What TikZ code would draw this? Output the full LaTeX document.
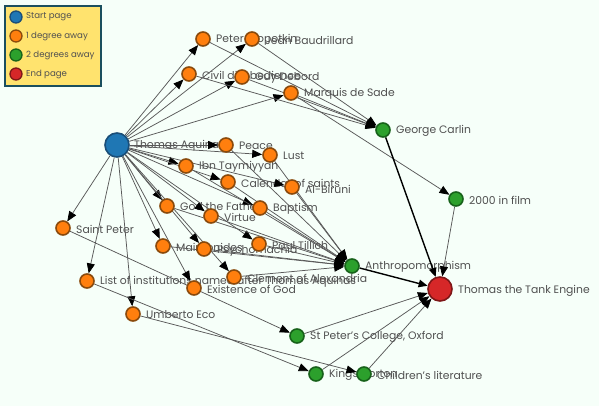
\documentclass[tikz,border=0pt]{standalone}
\usepackage{fontspec}
\setmainfont{Poppins}
\usetikzlibrary{arrows.meta}
\pgfdeclarelayer{bgl}
\pgfdeclarelayer{lab}
\pgfdeclarelayer{edge}
\pgfsetlayers{bgl,lab,edge,main}
\definecolor{bg}{HTML}{F6FFF9}
\definecolor{cblue}{HTML}{1F77B4}\definecolor{bblue}{HTML}{1A4E78}
\definecolor{corange}{HTML}{FF7F0E}\definecolor{borange}{HTML}{8A4A0C}
\definecolor{cgreen}{HTML}{2CA02C}\definecolor{bgreen}{HTML}{17621A}
\definecolor{cred}{HTML}{D62728}\definecolor{bred}{HTML}{7E1718}
\definecolor{legfill}{HTML}{FFE36E}\definecolor{legdraw}{HTML}{1B4F5E}
\definecolor{txt}{HTML}{505050}
\tikzset{
  dot/.style={circle,inner sep=0pt,line width=1.6pt,outer sep=0.8pt},
  onode/.style={dot,minimum size=14pt,fill=corange,draw=borange},
  gnode/.style={dot,minimum size=14pt,fill=cgreen,draw=bgreen},
  snode/.style={dot,minimum size=24pt,fill=cblue,draw=bblue},
  enode/.style={dot,minimum size=24pt,fill=cred,draw=bred},
  lab/.style={anchor=west,inner sep=0pt,text=txt,font=\fontsize{10.8}{12}\selectfont},
  ed/.style={draw=black!65,line width=0.75pt,-{Triangle[length=10pt,width=8pt,color=black,fill=black]}},
  edk/.style={draw=black,line width=1.4pt,-{Triangle[length=9pt,width=7.5pt]}},
  legtxt/.style={anchor=west,inner sep=0pt,text=txt,font=\fontsize{8.6}{9}\selectfont},
  legdot/.style={dot,minimum size=12pt,line width=1.3pt}
}
\begin{document}
\begin{tikzpicture}[x=1pt,y=-1pt]
\begin{pgfonlayer}{bgl}
\fill[bg] (0,0) rectangle (599,406);
\end{pgfonlayer}
\useasboundingbox (0,0) rectangle (599,406);
% legend
\node[draw=legdraw,fill=legfill,line width=1.6pt,minimum width=96pt,minimum height=80pt,inner sep=0pt,anchor=north west] (leg) at (4,5) {};
\node[legdot,fill=cblue,draw=bblue] (l1) at (16,17) {};
\node[legdot,fill=corange,draw=borange] (l2) at (16,36) {};
\node[legdot,fill=cgreen,draw=bgreen] (l3) at (16,55) {};
\node[legdot,fill=cred,draw=bred] (l4) at (16,74) {};
\node[legtxt] (t1) at (26,17) {Start page};
\node[legtxt] (t2) at (26,36) {1 degree away};
\node[legtxt] (t3) at (26,55) {2 degrees away};
\node[legtxt] (t4) at (26,74) {End page};
% nodes
\node[snode] (ta) at (117,145) {};
\node[onode] (kro) at (203,39) {};
\node[onode] (bau) at (252,39) {};
\node[onode] (civ) at (189,74) {};
\node[onode] (deb) at (242,77) {};
\node[onode] (sade) at (291,93) {};
\node[gnode] (gc) at (383,130) {};
\node[gnode] (film) at (456,199) {};
\node[onode] (peace) at (226,145) {};
\node[onode] (lust) at (270,155) {};
\node[onode] (ibn) at (186,166) {};
\node[onode] (cal) at (228,182) {};
\node[onode] (bir) at (292,187) {};
\node[onode] (god) at (167,206) {};
\node[onode] (vir) at (211,216) {};
\node[onode] (bap) at (260,208) {};
\node[onode] (sp) at (63,228) {};
\node[onode] (mai) at (163,246) {};
\node[onode] (psy) at (204,249) {};
\node[onode] (till) at (259,244) {};
\node[onode] (clem) at (234,277) {};
\node[onode] (list) at (87,281) {};
\node[onode] (exist) at (194,288) {};
\node[onode] (eco) at (133,314) {};
\node[gnode] (anth) at (352,266) {};
\node[enode] (tte) at (440,289) {};
\node[gnode] (spc) at (297,336) {};
\node[gnode] (kn) at (316,374) {};
\node[gnode] (cl) at (364,374) {};
% labels
\begin{pgfonlayer}{lab}
\node[lab] (ta-l) at (134,146) {Thomas Aquinas};
\node[lab] (kro-l) at (216,40) {Peter Kropotkin};
\node[lab] (bau-l) at (265,40) {Jean Baudrillard};
\node[lab] (civ-l) at (202,75) {Civil disobedience};
\node[lab] (deb-l) at (255,78) {Guy Debord};
\node[lab] (sade-l) at (304,94) {Marquis de Sade};
\node[lab] (gc-l) at (396,131) {George Carlin};
\node[lab] (film-l) at (469,200) {2000 in film};
\node[lab] (peace-l) at (239,146) {Peace};
\node[lab] (lust-l) at (283,156) {Lust};
\node[lab] (ibn-l) at (199,167) {Ibn Taymiyyah};
\node[lab] (cal-l) at (241,183) {Calendar of saints};
\node[lab] (bir-l) at (305,189) {Al-Biruni};
\node[lab] (god-l) at (180,207) {God the Father};
\node[lab] (vir-l) at (224,217) {Virtue};
\node[lab] (bap-l) at (273,209) {Baptism};
\node[lab] (sp-l) at (76,229) {Saint Peter};
\node[lab] (mai-l) at (176,247) {Maimonides};
\node[lab] (psy-l) at (217,251) {Psychomachia};
\node[lab] (till-l) at (272,245) {Paul Tillich};
\node[lab] (clem-l) at (247,278) {Clement of Alexandria};
\node[lab] (list-l) at (100,282) {List of institutions named after Thomas Aquinas};
\node[lab] (exist-l) at (207,289) {Existence of God};
\node[lab] (eco-l) at (146,315) {Umberto Eco};
\node[lab] (anth-l) at (365,267) {Anthropomorphism};
\node[lab] (tte-l) at (458,291) {Thomas the Tank Engine};
\node[lab] (spc-l) at (310,337) {St Peter's College, Oxford};
\node[lab] (kn-l) at (329,375) {Kings Norton};
\node[lab] (cl-l) at (377,375) {Children's literature};
\end{pgfonlayer}
% edges
\begin{pgfonlayer}{edge}
\foreach \n in {kro,bau,civ,deb,sade,peace,lust,ibn,cal,bir,god,vir,bap,sp,mai,psy,till,clem,list,exist,eco}
  \draw[ed] (ta) -- (\n);
\foreach \n in {kro,bau,civ,deb,sade}
  \draw[ed] (\n) -- (gc);
\draw[ed] (sade) -- (film);
\foreach \n in {peace,lust,ibn,cal,bir,god,vir,bap,mai,psy,till,clem}
  \draw[ed] (\n) -- (anth);
\draw[ed] (sp) -- (spc);
\draw[ed] (list) -- (kn);
\draw[ed] (eco) -- (cl);
\draw[edk] (gc) -- (tte);
\draw[edk] (anth) -- (tte);
\draw[ed] (film) -- (tte);
\draw[ed] (spc) -- (tte);
\draw[ed] (kn) -- (tte);
\draw[ed] (cl) -- (tte);
\end{pgfonlayer}
\end{tikzpicture}
\end{document}
